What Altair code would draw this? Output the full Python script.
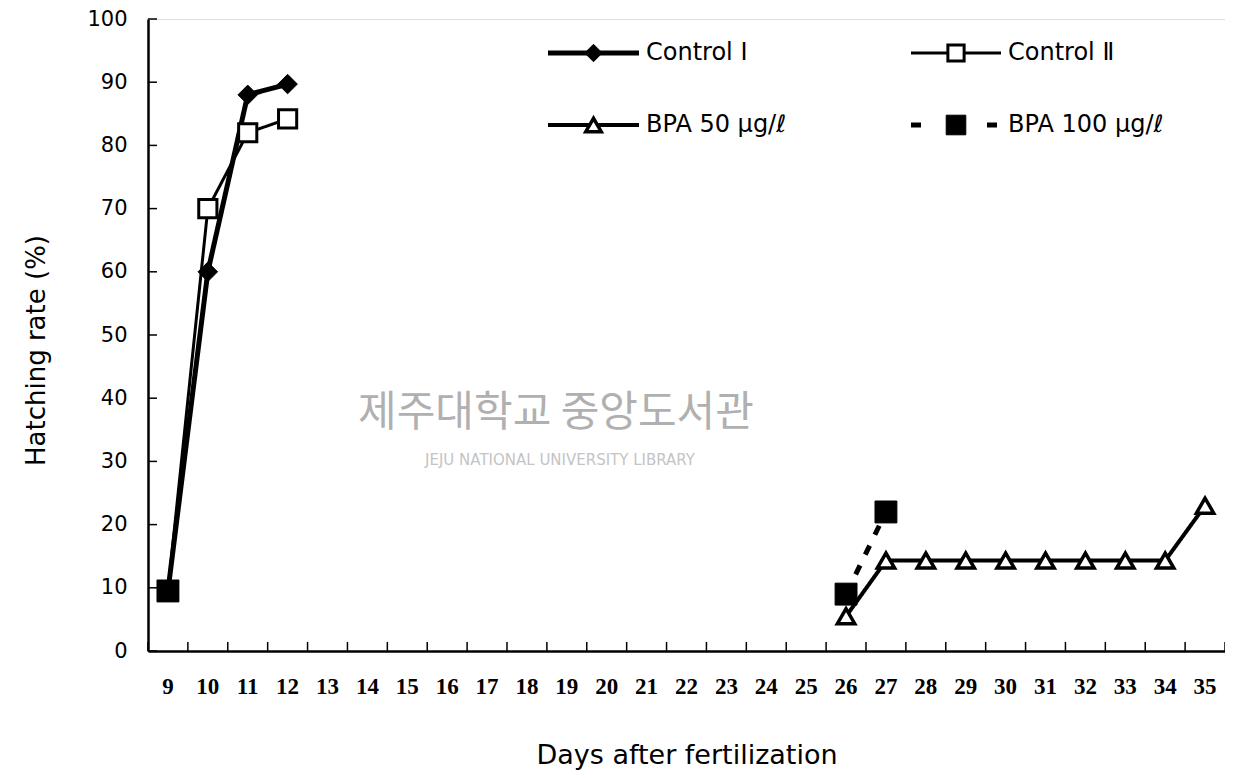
import altair as alt
import pandas as pd

days_all = list(range(9, 36))

ctrl1_days = [9, 10, 11, 12]
ctrl1_vals = [9.5, 60.0, 88.0, 89.7]

ctrl2_days = [9, 10, 11, 12]
ctrl2_vals = [9.5, 70.0, 82.0, 84.2]

bpa50_days = [26, 27, 28, 29, 30, 31, 32, 33, 34, 35]
bpa50_vals = [5.5, 14.3, 14.3, 14.3, 14.3, 14.3, 14.3, 14.3, 14.3, 23.0]

bpa100_days = [9, 26, 27]
bpa100_vals = [9.5, 9.0, 22.0]
bpa100_seg = [0, 1, 1]

series_names = ["Control Ⅰ", "Control Ⅱ", "BPA 50 μg/ℓ", "BPA 100 μg/ℓ"]
y_ticks = list(range(0, 101, 10))

W, H = 1077, 632

xscale = alt.Scale(type="band", domain=days_all, paddingInner=0, paddingOuter=0)
yscale = alt.Scale(domain=[0, 100], nice=False)


def df_of(name, days, vals, seg=None):
    return pd.DataFrame(
        {"series": name, "day": days, "value": vals, "seg": seg if seg else [0] * len(days)}
    )


frames = {
    series_names[0]: df_of(series_names[0], ctrl1_days, ctrl1_vals),
    series_names[1]: df_of(series_names[1], ctrl2_days, ctrl2_vals),
    series_names[2]: df_of(series_names[2], bpa50_days, bpa50_vals),
    series_names[3]: df_of(series_names[3], bpa100_days, bpa100_vals, bpa100_seg),
}

styles = {
    series_names[0]: dict(sw=5, dash=[1, 0], ldash=[1, 0], shape="diamond", size=380, filled=True, msw=1),
    series_names[1]: dict(sw=3, dash=[1, 0], ldash=[1, 0], shape="square", size=330, filled=False, msw=3),
    series_names[2]: dict(sw=4, dash=[1, 0], ldash=[1, 0], shape="triangle-up", size=300, filled=False, msw=3.5),
    series_names[3]: dict(sw=5, dash=[10, 12], ldash=[10, 28], shape="square", size=480, filled=True, msw=1),
}

X = alt.X(
    "day:O",
    scale=xscale,
    axis=alt.Axis(
        title="Days after fertilization",
        labelAngle=0,
        labelAlign="center",
        tickSize=0,
        labelPadding=24,
        labelFont="Liberation Serif",
        labelFontWeight="bold",
        labelFontSize=23,
        labelColor="black",
        titleFont="DejaVu Sans",
        titleFontSize=27,
        titleFontWeight="normal",
        titleColor="black",
        titlePadding=44,
        domainColor="black",
        domainWidth=2.5,
    ),
)
Y = alt.Y(
    "value:Q",
    scale=yscale,
    axis=alt.Axis(
        title="Hatching rate (%)",
        values=y_ticks,
        tickSize=0,
        labelPadding=21,
        labelFont="DejaVu Sans",
        labelFontSize=21,
        labelColor="black",
        titleFont="DejaVu Sans",
        titleFontSize=26,
        titleFontWeight="normal",
        titleColor="black",
        titlePadding=37,
        titleY=331,
        domainColor="black",
        domainWidth=2.5,
        grid=False,
    ),
)
Yplain = alt.Y("value:Q", scale=yscale)

main_layers = []
for name in series_names:
    st = styles[name]
    d = frames[name]
    main_layers.append(
        alt.Chart(d).mark_line(color="black", strokeWidth=st["sw"], strokeDash=st["dash"]).encode(
            x=X, y=Y, detail="seg:N"
        )
    )
for name in series_names:
    st = styles[name]
    d = frames[name]
    main_layers.append(
        alt.Chart(d).mark_point(
            shape=st["shape"],
            size=st["size"],
            filled=st["filled"],
            fill="black" if st["filled"] else "white",
            stroke="black",
            strokeWidth=st["msw"],
            opacity=1,
        ).encode(x=X, y=Yplain)
    )

# inward y ticks
ytick_df = pd.DataFrame({"value": y_ticks})
main_layers.append(
    alt.Chart(ytick_df).mark_rule(color="black", strokeWidth=1.5).encode(
        y=Yplain, x=alt.value(0), x2=alt.value(9)
    )
)

# watermark
wm1 = pd.DataFrame({"t": ["제주대학교 중앙도서관"]})
main_layers.append(
    alt.Chart(wm1).mark_text(
        font="Noto Sans CJK KR", fontSize=42, color="#b0b0b0", align="center", baseline="middle"
    ).encode(text="t:N", x=alt.value(408), y=alt.value(394))
)
wm2 = pd.DataFrame({"t": ["JEJU NATIONAL UNIVERSITY  LIBRARY"]})
main_layers.append(
    alt.Chart(wm2).mark_text(
        font="DejaVu Sans", fontSize=15, color="#c4c4c4", align="center", baseline="middle"
    ).encode(text="t:N", x=alt.value(412), y=alt.value(441))
)

# manual legend
legend_pos = [
    (400, 491, 34),
    (763, 853, 34),
    (400, 491, 106),
    (763, 853, 106),
]
for name, (x0, x1, yy) in zip(series_names, legend_pos):
    st = styles[name]
    ld = pd.DataFrame({"t": [name]})
    main_layers.append(
        alt.Chart(ld).mark_rule(color="black", strokeWidth=st["sw"], strokeDash=st["ldash"]).encode(
            x=alt.value(x0), x2=alt.value(x1), y=alt.value(yy)
        )
    )
    main_layers.append(
        alt.Chart(ld).mark_point(
            shape=st["shape"],
            size=st["size"] * 0.8,
            filled=st["filled"],
            fill="black" if st["filled"] else "white",
            stroke="black",
            strokeWidth=st["msw"],
            opacity=1,
        ).encode(x=alt.value((x0 + x1) / 2), y=alt.value(yy))
    )
    main_layers.append(
        alt.Chart(ld).mark_text(
            font="DejaVu Sans", fontSize=24, color="black", align="left", baseline="middle"
        ).encode(text="t:N", x=alt.value(x1 + 7), y=alt.value(yy))
    )

main = alt.layer(*main_layers)

# inward x ticks at band boundaries, on an independent linear scale
bounds = [d - 0.5 for d in days_all] + [days_all[-1] + 0.5]
xtick_df = pd.DataFrame({"b": bounds})
xticks = alt.Chart(xtick_df).mark_rule(color="black", strokeWidth=1.5).encode(
    x=alt.X(
        "b:Q",
        scale=alt.Scale(domain=[bounds[0], bounds[-1]], nice=False, zero=False),
        axis=None,
    ),
    y=alt.value(H - 9),
    y2=alt.value(H),
)

chart = (
    alt.layer(main, xticks)
    .resolve_scale(x="independent")
    .properties(
        width=W,
        height=H,
        autosize=alt.AutoSizeParams(type="none"),
        padding={"left": 140, "top": 11, "right": 0, "bottom": 119},
    )
    .configure_view(stroke=None)
    .configure(background="white")
)

chart.save("out.html", embed_options={"renderer": "svg", "actions": False})
